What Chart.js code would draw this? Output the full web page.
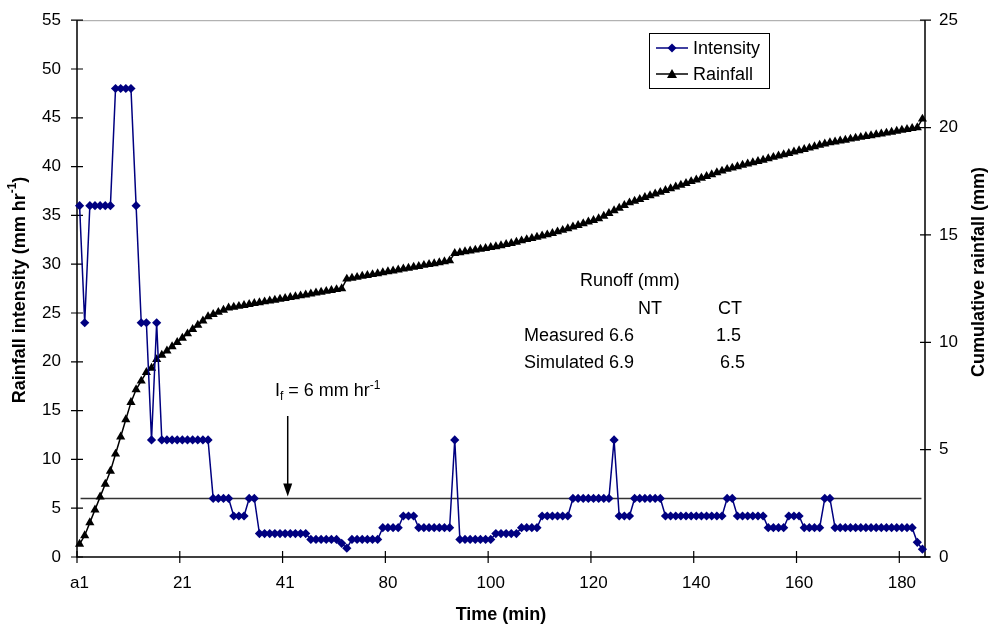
<!DOCTYPE html>
<html>
<head>
<meta charset="utf-8">
<script src="https://cdn.jsdelivr.net/npm/chart.js@4.4.1/dist/chart.umd.min.js"></script>
<style>
  body { margin: 0; background: #fff; }
</style>
</head>
<body>
<canvas id="myChart" width="989" height="629"></canvas>
<script>
// tick labels shown every 20 categories on the time axis
const tickLabels = ['a1', '21', '41', '80', '100', '120', '140', '160', '180'];
const tickEvery = 20;

// rainfall intensity (mm/hr), one value per time step
const intensity = [
    36, 24, 36, 36, 36, 36, 36, 48, 48, 48, 48, 36, 24, 24, 12, 24,
    12, 12, 12, 12, 12, 12, 12, 12, 12, 12,
    6, 6, 6, 6, 4.2, 4.2, 4.2, 6, 6,
    2.4, 2.4, 2.4, 2.4, 2.4, 2.4, 2.4, 2.4, 2.4, 2.4,
    1.8, 1.8, 1.8, 1.8, 1.8, 1.8, 1.4, 0.9,
    1.8, 1.8, 1.8, 1.8, 1.8, 1.8,
    3, 3, 3, 3, 4.2, 4.2, 4.2, 3, 3, 3, 3, 3, 3, 3,
    12,
    1.8, 1.8, 1.8, 1.8, 1.8, 1.8, 1.8,
    2.4, 2.4, 2.4, 2.4, 2.4, 3, 3, 3, 3,
    4.2, 4.2, 4.2, 4.2, 4.2, 4.2,
    6, 6, 6, 6, 6, 6, 6, 6,
    12,
    4.2, 4.2, 4.2, 6, 6, 6, 6, 6, 6,
    4.2, 4.2, 4.2, 4.2, 4.2, 4.2, 4.2, 4.2, 4.2, 4.2, 4.2, 4.2,
    6, 6, 4.2, 4.2, 4.2, 4.2, 4.2, 4.2,
    3, 3, 3, 3, 4.2, 4.2, 4.2, 3, 3, 3, 3, 6, 6,
    3, 3, 3, 3, 3, 3, 3, 3, 3, 3, 3, 3, 3, 3, 3, 3,
    1.5, 0.8
];

// cumulative rainfall (mm)
const rainfall = [
    0.6, 1.0, 1.6, 2.2, 2.8, 3.4, 4.0, 4.8, 5.6, 6.4, 7.2, 7.8, 8.2, 8.6, 8.8, 9.2,
    9.4, 9.6, 9.8, 10.0, 10.2, 10.4, 10.6, 10.8, 11.0, 11.2,
    11.3, 11.4, 11.5, 11.6,
    11.64, 11.68, 11.72, 11.77, 11.81, 11.85, 11.89, 11.93, 11.97, 12.01, 12.05,
    12.09, 12.13, 12.17, 12.21, 12.26, 12.3, 12.34, 12.38, 12.42, 12.46, 12.5,
    12.95, 12.99, 13.03, 13.08, 13.12, 13.16, 13.2, 13.25, 13.29, 13.33, 13.37,
    13.42, 13.46, 13.5, 13.54, 13.59, 13.63, 13.67, 13.71, 13.76, 13.8,
    14.14, 14.18, 14.22, 14.26, 14.3, 14.34, 14.38, 14.42, 14.46, 14.5,
    14.56, 14.61, 14.67, 14.73, 14.79, 14.84, 14.9, 14.96, 15.01, 15.07,
    15.15, 15.22, 15.3, 15.38, 15.45, 15.53, 15.61, 15.68, 15.76,
    15.88, 16.01, 16.13, 16.25, 16.38, 16.5,
    16.58, 16.66, 16.75, 16.83, 16.91, 16.99, 17.08, 17.16, 17.24, 17.32,
    17.4, 17.49, 17.57, 17.65, 17.73, 17.81, 17.9, 17.98, 18.06,
    18.12, 18.18, 18.25, 18.31, 18.37, 18.43, 18.49, 18.56, 18.62, 18.68,
    18.74, 18.8, 18.87, 18.93, 18.99, 19.05, 19.11, 19.18, 19.24, 19.3,
    19.34, 19.38, 19.42, 19.47, 19.51, 19.55, 19.59, 19.63, 19.67, 19.71,
    19.75, 19.79, 19.84, 19.88, 19.92, 19.96,
    20.0, 20.4
];

// runoff table and infiltration rate
const runoffHeader = ['NT', 'CT'];
const runoffRows = [
    ['Measured', '6.6', '1.5'],
    ['Simulated', '6.9', '6.5']
];
const infiltrationRate = 6;

const categories = intensity.map((v, i) => i % tickEvery === 0 ? tickLabels[i / tickEvery] : '');

const FONT = "'Liberation Sans', Arial, sans-serif";
const NAVY = '#000080';

// draws text made of parts (for sub/superscripts)
function richText(ctx, parts, x, y, align) {
    let total = 0;
    parts.forEach(p => {
        ctx.font = (p.bold ? 'bold ' : '') + p.size + 'px ' + FONT;
        p.w = ctx.measureText(p.t).width;
        total += p.w;
    });
    let cx = align === 'center' ? x - total / 2 : x;
    parts.forEach(p => {
        ctx.font = (p.bold ? 'bold ' : '') + p.size + 'px ' + FONT;
        ctx.fillText(p.t, cx, y + (p.dy || 0));
        cx += p.w;
    });
}

const overlay = {
    id: 'overlay',
    beforeDatasetsDraw(chart) {
        const { ctx, chartArea: a, scales: { x, y, y1 } } = chart;
        ctx.save();
        // plot area top border
        ctx.strokeStyle = '#a0a0a0';
        ctx.lineWidth = 1;
        ctx.beginPath();
        ctx.moveTo(a.left, a.top + 0.5);
        ctx.lineTo(a.right, a.top + 0.5);
        ctx.stroke();

        // axis lines
        ctx.strokeStyle = '#000';
        ctx.lineWidth = 1.5;
        ctx.beginPath();
        ctx.moveTo(a.left, a.top);
        ctx.lineTo(a.left, a.bottom);
        ctx.lineTo(a.right + 5, a.bottom);
        ctx.moveTo(a.right, a.top);
        ctx.lineTo(a.right, a.bottom);
        ctx.stroke();

        // tick marks crossing the axes
        ctx.lineWidth = 1.2;
        ctx.beginPath();
        for (let v = 0; v <= 55; v += 5) {
            const py = y.getPixelForValue(v);
            ctx.moveTo(a.left - 6, py);
            ctx.lineTo(a.left + 6, py);
        }
        for (let v = 0; v <= 25; v += 5) {
            const py = y1.getPixelForValue(v);
            ctx.moveTo(a.right - 5, py);
            ctx.lineTo(a.right + 6, py);
        }
        const step = x.getPixelForValue(1) - x.getPixelForValue(0);
        for (let i = 0; i < intensity.length; i += tickEvery) {
            const px = x.getPixelForValue(i) - step / 2;
            ctx.moveTo(px, a.bottom - 6);
            ctx.lineTo(px, a.bottom + 6);
        }
        ctx.stroke();

        // infiltration rate line
        const py6 = y.getPixelForValue(infiltrationRate);
        ctx.strokeStyle = '#333';
        ctx.lineWidth = 1.5;
        ctx.beginPath();
        ctx.moveTo(x.getPixelForValue(0) + 1, py6);
        ctx.lineTo(x.getPixelForValue(intensity.length - 1) - 1, py6);
        ctx.stroke();
        ctx.restore();
    },
    afterDatasetsDraw(chart) {
        const { ctx, scales: { x, y } } = chart;
        ctx.save();
        ctx.fillStyle = '#000';
        ctx.textBaseline = 'middle';

        // y axis titles (both read bottom to top)
        ctx.save();
        ctx.translate(20, 290);
        ctx.rotate(-Math.PI / 2);
        richText(ctx, [
            { t: 'Rainfall intensity (mm hr', size: 18, bold: true },
            { t: '-1', size: 12, bold: true, dy: -7 },
            { t: ')', size: 18, bold: true }
        ], 0, 0, 'center');
        ctx.restore();

        ctx.save();
        ctx.translate(979, 272);
        ctx.rotate(-Math.PI / 2);
        richText(ctx, [{ t: 'Cumulative rainfall (mm)', size: 18, bold: true }], 0, 0, 'center');
        ctx.restore();

        // legend
        ctx.strokeStyle = '#000';
        ctx.lineWidth = 1;
        ctx.strokeRect(649.5, 33.5, 120, 55);
        ctx.lineWidth = 1.5;
        ctx.strokeStyle = NAVY;
        ctx.beginPath();
        ctx.moveTo(656, 48);
        ctx.lineTo(688, 48);
        ctx.stroke();
        ctx.fillStyle = NAVY;
        ctx.beginPath();
        ctx.moveTo(672, 43.5); ctx.lineTo(676.5, 48); ctx.lineTo(672, 52.5); ctx.lineTo(667.5, 48);
        ctx.closePath();
        ctx.fill();
        ctx.strokeStyle = '#000';
        ctx.beginPath();
        ctx.moveTo(656, 74);
        ctx.lineTo(688, 74);
        ctx.stroke();
        ctx.fillStyle = '#000';
        ctx.beginPath();
        ctx.moveTo(672, 69); ctx.lineTo(677, 78); ctx.lineTo(667, 78);
        ctx.closePath();
        ctx.fill();
        ctx.font = '18px ' + FONT;
        ctx.fillText('Intensity', 693, 49);
        ctx.fillText('Rainfall', 693, 75);

        // runoff table
        ctx.fillText('Runoff (mm)', 580, 281);
        ctx.fillText(runoffHeader[0], 638, 309);
        ctx.fillText(runoffHeader[1], 718, 309);
        runoffRows.forEach((row, r) => {
            const ty = 336 + r * 27;
            ctx.fillText(row[0], 524, ty);
            ctx.fillText(row[1], 609, ty);
            ctx.fillText(row[2], r === 0 ? 716 : 720, ty);
        });

        // infiltration label and arrow
        ctx.textBaseline = 'alphabetic';
        richText(ctx, [
            { t: 'I', size: 18 },
            { t: 'f', size: 12, dy: 4 },
            { t: ' = 6 mm hr', size: 18 },
            { t: '-1', size: 12, dy: -7 }
        ], 275, 396, 'left');

        const ax = (x.getPixelForValue(40) + x.getPixelForValue(41)) / 2;
        const tipY = y.getPixelForValue(infiltrationRate) - 2;
        ctx.strokeStyle = '#000';
        ctx.lineWidth = 1.5;
        ctx.beginPath();
        ctx.moveTo(ax, 416);
        ctx.lineTo(ax, tipY - 10);
        ctx.stroke();
        ctx.beginPath();
        ctx.moveTo(ax, tipY);
        ctx.lineTo(ax - 4.5, tipY - 13);
        ctx.lineTo(ax + 4.5, tipY - 13);
        ctx.closePath();
        ctx.fill();
        ctx.restore();
    }
};

const ctx = document.getElementById('myChart').getContext('2d');
const myChart = new Chart(ctx, {
    type: 'line',
    data: {
        labels: categories,
        datasets: [{
            label: 'Intensity',
            data: intensity,
            yAxisID: 'y',
            borderColor: NAVY,
            backgroundColor: NAVY,
            borderWidth: 1.5,
            pointStyle: 'rectRot',
            pointRadius: 4.6,
            pointBorderWidth: 0,
            tension: 0
        }, {
            label: 'Rainfall',
            data: rainfall,
            yAxisID: 'y1',
            borderColor: '#000',
            backgroundColor: '#000',
            borderWidth: 1.5,
            pointStyle: 'triangle',
            pointRadius: 5.3,
            pointBorderWidth: 0,
            tension: 0
        }]
    },
    options: {
        responsive: false,
        animation: false,
        layout: { padding: { top: 17, left: 0, right: 0, bottom: 0 } },
        plugins: {
            legend: { display: false },
            tooltip: { enabled: false }
        },
        scales: {
            x: {
                type: 'category',
                offset: true,
                grid: { color: 'rgba(0,0,0,0)', drawOnChartArea: false, tickLength: 6 },
                border: { display: false },
                ticks: {
                    autoSkip: false,
                    maxRotation: 0,
                    padding: 10,
                    color: '#000',
                    font: { family: FONT, size: 17 },
                    callback: function (v) {
                        const l = this.getLabelForValue(v);
                        return l === '' ? null : l;
                    }
                },
                title: {
                    display: true,
                    text: 'Time (min)',
                    color: '#000',
                    font: { family: FONT, size: 18, weight: 'bold' },
                    padding: { top: 0, bottom: 3 }
                },
                afterFit: s => { s.height = 72; }
            },
            y: {
                position: 'left',
                min: 0,
                max: 55,
                grid: { color: 'rgba(0,0,0,0)', drawOnChartArea: false, tickLength: 6 },
                border: { display: false },
                ticks: { stepSize: 5, padding: 10, color: '#000', font: { family: FONT, size: 17 } },
                afterFit: s => { s.width = 77; }
            },
            y1: {
                position: 'right',
                min: 0,
                max: 25,
                grid: { color: 'rgba(0,0,0,0)', drawOnChartArea: false, tickLength: 6 },
                border: { display: false },
                ticks: { stepSize: 5, padding: 8, color: '#000', font: { family: FONT, size: 17 } },
                afterFit: s => { s.width = 64; }
            }
        }
    },
    plugins: [overlay]
});
</script>
</body>
</html>
